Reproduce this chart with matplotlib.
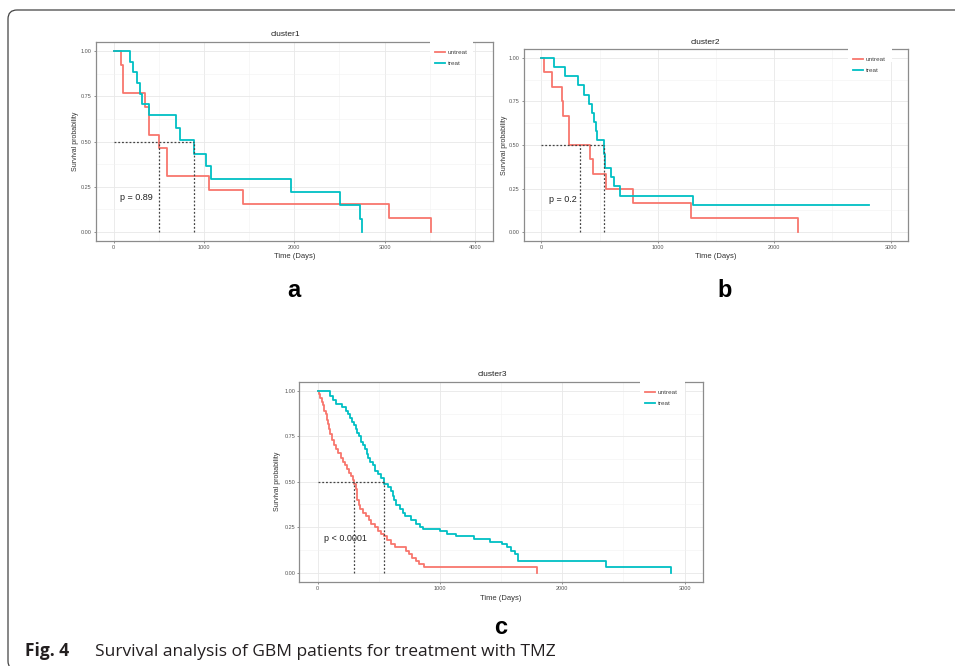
import matplotlib
matplotlib.use('Agg')
import matplotlib.pyplot as plt
from matplotlib.patches import FancyBboxPatch, Rectangle
from matplotlib.transforms import IdentityTransform

# Kaplan-Meier curves (time in days, survival probability)
c1_untreat_t = [0, 82, 108, 353, 390, 498, 594, 1055, 1430, 3045, 3517]
c1_untreat_s = [1.0, 0.923, 0.769, 0.692, 0.538, 0.462, 0.308, 0.231, 0.154, 0.077, 0.0]
c1_treat_t = [0, 182, 219, 256, 290, 316, 397, 687, 739, 888, 1018, 1073, 1968, 2507, 2726, 2752]
c1_treat_s = [1.0, 0.941, 0.882, 0.824, 0.765, 0.706, 0.647, 0.576, 0.507, 0.433, 0.364, 0.294,
              0.219, 0.147, 0.07, 0.0]

c2_untreat_t = [0, 23, 94, 175, 186, 238, 418, 447, 552, 790, 1282, 2207]
c2_untreat_s = [1.0, 0.917, 0.833, 0.75, 0.667, 0.5, 0.417, 0.333, 0.25, 0.167, 0.083, 0.0]
c2_treat_t = [0, 109, 200, 315, 366, 409, 438, 452, 467, 481, 538, 544, 601, 624, 676, 1305, 2814]
c2_treat_s = [1.0, 0.947, 0.895, 0.842, 0.789, 0.737, 0.684, 0.632, 0.579, 0.526, 0.45, 0.368,
              0.316, 0.263, 0.21, 0.158, 0.158]

c3_untreat_t = [0, 10, 20, 35, 45, 55, 65, 75, 85, 95, 105, 115, 130, 150, 170, 190, 210, 225, 240,
                255, 270, 290, 300, 310, 318, 325, 335, 350, 370, 395, 420, 440, 465, 490, 520, 545,
                570, 600, 630, 720, 745, 770, 800, 830, 870, 1790]
c3_untreat_s = [1.0, 0.98, 0.96, 0.94, 0.92, 0.89, 0.87, 0.84, 0.82, 0.79, 0.76, 0.73, 0.70, 0.68,
                0.66, 0.63, 0.61, 0.59, 0.57, 0.55, 0.53, 0.51, 0.49, 0.46, 0.43, 0.40, 0.37, 0.35,
                0.33, 0.31, 0.29, 0.27, 0.25, 0.23, 0.21, 0.20, 0.18, 0.16, 0.14, 0.12, 0.10, 0.08,
                0.065, 0.05, 0.033, 0.0]
c3_treat_t = [0, 105, 125, 150, 200, 235, 250, 265, 280, 295, 310, 325, 340, 355, 370, 385, 400, 415,
              430, 450, 470, 490, 520, 545, 575, 600, 612, 625, 640, 670, 695, 710, 760, 800, 835,
              860, 1000, 1060, 1130, 1280, 1410, 1510, 1550, 1580, 1610, 1640, 2360, 2890]
c3_treat_s = [1.0, 0.97, 0.95, 0.93, 0.91, 0.89, 0.87, 0.85, 0.83, 0.81, 0.79, 0.77, 0.75, 0.72,
              0.70, 0.68, 0.65, 0.63, 0.61, 0.59, 0.56, 0.54, 0.52, 0.49, 0.47, 0.45, 0.42, 0.40,
              0.37, 0.35, 0.33, 0.31, 0.29, 0.27, 0.25, 0.24, 0.23, 0.215, 0.20, 0.185, 0.17, 0.155,
              0.14, 0.12, 0.10, 0.065, 0.033, 0.0]

# median survival (untreat, treat) and p-values
medians = [(498, 888), (329, 538), (300, 545)]
pvals = ['p = 0.89', 'p = 0.2', 'p < 0.0001']
titles = ['cluster1', 'cluster2', 'cluster3']
xmax = [4000, 3000, 3000]
groups = ['untreat', 'treat']

RED = '#F8766D'
CYAN = '#00BFC4'
W, H = 955, 666

plt.rcParams['font.family'] = ['Liberation Sans', 'DejaVu Sans']
fig = plt.figure(figsize=(W / 100, H / 100), dpi=100)


def px(x, y):
    return x / W, 1 - y / H


# panel boxes in pixels: left, top, right, bottom
boxes = [(95.5, 42, 493, 241), (524, 49, 908, 241), (299.3, 381.7, 703, 581.7)]
legend_gap = [(430, 473), (848, 892), (640, 685)]
title_pos = [(285, 35), (705, 42), (492, 374)]
ylab_x = [75, 504, 277]
xlab_y = [256, 256, 598]
ptext_pos = [(74, 0.19), (66, 0.187), (55, 0.19)]
curves = [(c1_untreat_t, c1_untreat_s, c1_treat_t, c1_treat_s),
          (c2_untreat_t, c2_untreat_s, c2_treat_t, c2_treat_s),
          (c3_untreat_t, c3_untreat_s, c3_treat_t, c3_treat_s)]

for i in range(3):
    l, t, r, b = boxes[i]
    x0, y0 = px(l, b)
    ax = fig.add_axes([x0, y0, (r - l) / W, (b - t) / H])
    ut, us, tt, ts = curves[i]
    ax.step(ut, us, where='post', color=RED, lw=1.3, label=groups[0], zorder=3)
    ax.step(tt, ts, where='post', color=CYAN, lw=1.3, label=groups[1], zorder=3)

    mu, mt = medians[i]
    ax.plot([0, max(mu, mt)], [0.5, 0.5], color='#444444', lw=0.9, ls=(0, (1.5, 1.5)), zorder=4)
    ax.plot([mu, mu], [0, 0.5], color='#444444', lw=0.9, ls=(0, (1.5, 1.5)), zorder=4)
    ax.plot([mt, mt], [0, 0.5], color='#444444', lw=0.9, ls=(0, (1.5, 1.5)), zorder=4)

    ax.text(ptext_pos[i][0], ptext_pos[i][1], pvals[i], fontsize=6.5, color='#222222',
            ha='left', va='center', zorder=5)

    xm = xmax[i]
    ax.set_xlim(-0.05 * xm, 1.05 * xm)
    ax.set_ylim(-0.05, 1.05)
    ax.set_xticks(range(0, xm + 1, 1000))
    ax.set_xticks(range(500, xm, 1000), minor=True)
    ax.set_yticks([0, 0.25, 0.5, 0.75, 1.0])
    ax.set_yticks([0.125, 0.375, 0.625, 0.875], minor=True)
    ax.set_yticklabels(['0.00', '0.25', '0.50', '0.75', '1.00'])
    ax.grid(which='major', color='#E8E8E8', lw=0.6, zorder=0)
    ax.grid(which='minor', color='#F2F2F2', lw=0.4, zorder=0)
    ax.tick_params(which='major', labelsize=4, colors='#666666', labelcolor='#555555',
                   length=1.5, width=0.5, pad=1.5)
    ax.tick_params(which='minor', length=0)
    for s in ax.spines.values():
        s.set_color('#8C8C8C')
        s.set_linewidth(0.9)
    ax.set_axisbelow(True)

    ax.set_xlabel('Time (Days)', fontsize=5.5, color='#333333')
    ax.xaxis.set_label_coords(0.5, -(xlab_y[i] - b) / (b - t))
    ax.xaxis.label.set_va('center')
    ax.set_ylabel('Survival probability', fontsize=5, color='#333333')
    ax.yaxis.set_label_coords(-(l - ylab_x[i]) / (r - l), 0.5)
    ax.yaxis.label.set_va('center')

    # legend sits over the panel's top right corner on a white patch
    g0, g1 = legend_gap[i]
    ax.add_patch(Rectangle(((g0 - l) / (r - l), 0.93), (g1 - g0) / (r - l), 0.1,
                           transform=ax.transAxes, facecolor='white', edgecolor='none',
                           clip_on=False, zorder=6))
    leg = ax.legend(loc='upper left', bbox_to_anchor=((g0 + 5 - l) / (r - l), 0.96), frameon=False,
                    fontsize=4.6, handlelength=1.5, handletextpad=0.5, labelspacing=0.85,
                    borderaxespad=0, borderpad=0)
    leg.set_zorder(7)
    for txt in leg.get_texts():
        txt.set_color('#444444')

    tx, ty = px(*title_pos[i])
    fig.text(tx, ty, titles[i], fontsize=6, color='#222222', ha='center', va='center')

# panel letters
for letter, (lx, ly) in zip(['a', 'b', 'c'], [(294, 290), (725, 290), (501, 628)]):
    fx, fy = px(lx, ly)
    fig.text(fx, fy, letter, fontsize=17, fontweight='bold', ha='center', va='center')

# caption
cx, cy = px(25, 656)
fig.text(cx, cy, 'Fig. 4', fontsize=12.5, fontweight='bold', family='Open Sans', color='#231F20',
         ha='left', va='baseline')
cx, cy = px(95, 656)
fig.text(cx, cy, 'Survival analysis of GBM patients for treatment with TMZ', fontsize=12.5,
         family='Open Sans', color='#231F20', ha='left', va='baseline')

# rounded frame around the figure
fig.add_artist(FancyBboxPatch((8, -4), 980, H - 10 + 4, boxstyle='round,pad=0,rounding_size=9',
                              transform=IdentityTransform(), facecolor='none',
                              edgecolor='#444444', lw=0.9))

fig.savefig('out.png', dpi=100)
